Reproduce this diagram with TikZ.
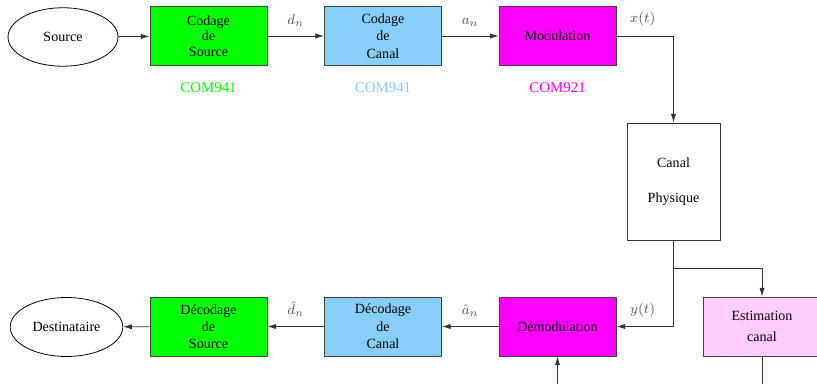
\documentclass[tikz,border=0pt]{standalone}
\usepackage{fontspec}
\setmainfont{Liberation Serif}
\usetikzlibrary{arrows.meta, positioning, calc, shapes.geometric}
\definecolor{vertcom}{RGB}{0,255,0}
\definecolor{bleucom}{RGB}{135,206,250}
\definecolor{magcom}{RGB}{255,0,255}
\definecolor{rosecom}{RGB}{255,204,255}
\begin{document}
\begin{tikzpicture}[x=0.02cm, y=-0.02cm, line join=round,
    font=\fontsize{8}{9}\selectfont,
    bloc/.style={draw=black!75, line width=0.5pt, minimum width=2.34cm,
      minimum height=1.18cm, align=center, inner sep=1pt},
    bord/.style={draw=black, line width=0.45pt, ellipse, minimum width=2.2cm,
      minimum height=1.17cm},
    fleche/.style={draw=black!80, line width=0.45pt, -{Latex[length=5pt,width=3pt]}},
    trait/.style={draw=black!80, line width=0.45pt},
    lbl/.style={text=black!65},
    code/.style={font=\fontsize{8.5}{9}\selectfont}]
  \useasboundingbox (0,0) rectangle (817,384);
  % Emission
  \node[bord] (src) at (63,37) {Source};
  \node[bloc, fill=vertcom, font=\fontsize{8}{8.8}\selectfont] (cs) at (208.5,36) {Codage\\de\\Source};
  \node[bloc, fill=bleucom, font=\fontsize{8}{10}\selectfont] (cc) at (383,36) {Codage\\de\\Canal};
  \node[bloc, fill=magcom] (mod) at (557.5,36) {Modulation};
  \node[code, text=vertcom, below=6pt of cs] (ncs) {COM941};
  \node[code, text=bleucom, below=6pt of cc] (ncc) {COM941};
  \node[code, text=magcom, below=6pt of mod] (nmod) {COM921};
  % Canal
  \node[draw=black!80, line width=0.5pt, minimum width=1.86cm, minimum height=2.34cm,
    align=center] (cp) at (673.5,181.5) {Canal\\[11pt]Physique};
  \node[bloc, fill=rosecom, minimum width=2.36cm, font=\fontsize{8}{12}\selectfont] (est) at (762,326.5) {Estimation\\canal};
  % Reception
  \node[bloc, fill=magcom] (dem) at (557.5,326.5) {Démodulation};
  \node[bloc, fill=bleucom, font=\fontsize{8}{10}\selectfont] (dc) at (383,326.5) {Décodage\\de\\Canal};
  \node[bloc, fill=vertcom, font=\fontsize{8}{9.5}\selectfont] (ds) at (208.5,326.5) {Décodage\\de\\Source};
  \node[bord, minimum width=2.22cm, minimum height=1.18cm] (dst) at (66.5,327) {Destinataire};
  \coordinate (br) at (674,268);
  \coordinate (estbas) at (762,384);
  \coordinate (demin) at (557.5,384);
  % Liaisons
  \draw[fleche] (src) -- (cs);
  \draw[fleche] (cs) -- node[lbl, above=2pt] {$d_n$} (cc);
  \draw[fleche] (cc) -- node[lbl, above=2pt] {$a_n$} (mod);
  \draw[fleche] (mod.east) -| node[lbl, above=2pt, pos=0.23] {$x(t)$} (cp.north);
  \draw[fleche] (cp.south) |- node[lbl, above=2pt, pos=0.77] {$y(t)$} (dem.east);
  \draw[fleche] (br) -| (est.north);
  \draw[trait] (est.south) -- (estbas);
  \draw[fleche] (demin) -- (dem.south);
  \draw[fleche] (dem) -- node[lbl, above=2pt] {$\hat{a}_n$} (dc);
  \draw[fleche] (dc) -- node[lbl, above=2pt] {$\hat{d}_n$} (ds);
  \draw[fleche] (ds) -- (dst);
\end{tikzpicture}
\end{document}
